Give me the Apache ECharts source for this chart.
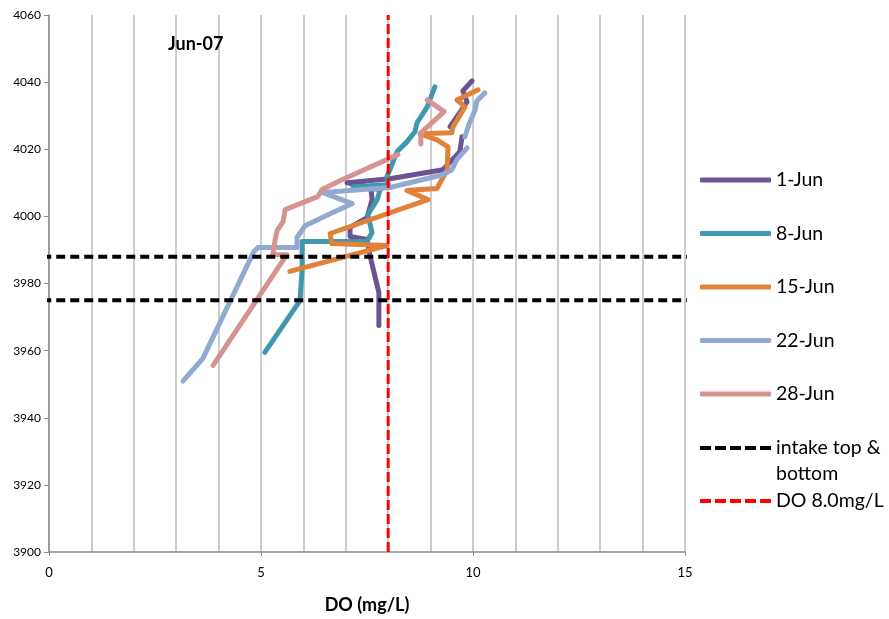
<!DOCTYPE html>
<html>
<head>
<meta charset="utf-8">
<script src="https://cdn.jsdelivr.net/npm/echarts@6/dist/echarts.min.js"></script>
<style>
html,body{margin:0;padding:0;background:#fff;}
#chart{width:889px;height:619px;}
</style>
</head>
<body>
<div id="chart"></div>
<script>
// ---- data (DO in mg/L, elevation) ----
const names = ['1-Jun', '8-Jun', '15-Jun', '22-Jun', '28-Jun'];
const do_1Jun = [7.78,7.78,7.57,7.50,7.10,7.10,7.50,7.62,7.59,7.03,8.04,9.29,9.69,9.74,null,9.46,9.86,9.76,9.98];
const el_1Jun = [3967.5,3977.3,3988.3,3993.1,3994.0,3996.7,3999.6,4005.0,4008.6,4010.0,4011.2,4013.9,4019.3,4023.7,null,4026.7,4034.1,4037.4,4040.4];
const do_8Jun = [5.09,5.92,5.97,5.97,7.50,7.62,7.52,7.74,7.81,7.17,8.00,7.97,8.04,8.21,8.44,8.63,8.68,8.92,9.10];
const el_8Jun = [3959.5,3974.9,3984.2,3992.5,3992.5,3995.2,4000.5,4005.0,4008.0,4008.8,4009.4,4011.8,4013.9,4019.3,4022.2,4025.2,4027.9,4032.6,4038.6];
const do_15Jun = [5.68,7.97,6.67,6.63,8.94,8.44,9.15,9.39,9.41,9.15,8.75,9.50,9.53,9.81,9.62,10.12];
const el_15Jun = [3983.6,3991.3,3991.9,3994.9,4005.0,4007.7,4008.3,4013.9,4020.7,4022.8,4024.6,4024.9,4026.7,4032.6,4034.7,4037.7];
const do_22Jun = [3.16,3.63,4.83,4.93,5.85,5.85,6.04,6.63,7.15,6.46,8.04,9.29,9.50,9.62,9.86,null,9.81,9.91,10.05,10.09,10.28];
const el_22Jun = [3950.9,3957.7,3989.5,3990.7,3990.7,3993.7,3997.2,4000.8,4003.8,4007.1,4008.6,4012.4,4013.9,4016.9,4020.4,null,4023.7,4027.6,4031.7,4034.4,4036.8];
const do_28Jun = [3.87,5.61,5.28,5.33,5.38,5.52,5.57,6.04,6.34,6.44,6.86,7.33,8.23,null,8.77,8.77,9.32,8.92];
const el_28Jun = [3955.6,3988.6,3988.6,3992.8,3995.8,3998.4,4002.0,4004.4,4005.9,4008.0,4010.6,4013.3,4018.4,null,4021.6,4024.9,4031.2,4034.7];
const intakeName = 'intake top &\nbottom';
const intakeElev = [3988, 3975];
const intakeX = [-1.15, 19.7];
const doLimitName = 'DO 8.0mg/L';
const doLimit = 8.0;
const doLimitElev = [3900, 4060];
const xTicks = [0, 5, 10, 15];
const yTicks = [3900, 3920, 3940, 3960, 3980, 4000, 4020, 4040, 4060];

const colors = ['#6B5494', '#3F98AE', '#E0823A', '#92AAD2', '#D59391'];
const FONT = 'Lato, "Open Sans", sans-serif';
const dashIcon = 'path://M0,0h11v4h-11z M15,0h11v4h-11z M30,0h11v4h-11z M45,0h11v4h-11z M60,0h11v4h-11z';

function pairs(xs, ys) {
  return xs.map((x, i) => (x === null || ys[i] === null) ? ['-', '-'] : [x, ys[i]]);
}
const doArr = [do_1Jun, do_8Jun, do_15Jun, do_22Jun, do_28Jun];
const elArr = [el_1Jun, el_8Jun, el_15Jun, el_22Jun, el_28Jun];

const series = names.map((n, i) => ({
  name: n,
  type: 'line',
  data: pairs(doArr[i], elArr[i]),
  showSymbol: false,
  symbol: 'none',
  color: colors[i],
  itemStyle: { color: colors[i] },
  lineStyle: { width: 5, color: colors[i], cap: 'round', join: 'round' },
  connectNulls: false,
  z: 2
}));

intakeElev.forEach(e => {
  series.push({
    name: intakeName,
    type: 'line',
    data: intakeX.map(x => [x, e]),
    symbol: 'none',
    clip: false,
    color: '#000',
    itemStyle: { color: '#000' },
    lineStyle: { width: 4, color: '#000', type: [9, 5] },
    z: 3
  });
});
series.push({
  name: doLimitName,
  type: 'line',
  data: doLimitElev.map(e => [doLimit, e]),
  symbol: 'none',
  color: '#FF0000',
  itemStyle: { color: '#FF0000' },
  lineStyle: { width: 3, color: '#FF0000', type: [10, 4] },
  z: 4
});

const legendText = { fontSize: 19.5, color: '#000', lineHeight: 20, fontFamily: FONT };

const chart = echarts.init(document.getElementById('chart'), null, { renderer: 'canvas' });
chart.setOption({
  animation: false,
  backgroundColor: '#fff',
  textStyle: { fontFamily: FONT },
  title: {
    text: 'Jun-07', left: 163, top: 30,
    textStyle: { fontSize: 18, fontWeight: 'bold', color: '#000', fontFamily: FONT }
  },
  grid: { left: 49, right: 204, top: 15, bottom: 66, containLabel: false },
  xAxis: {
    type: 'value', min: xTicks[0], max: xTicks[xTicks.length - 1], interval: 5,
    name: 'DO (mg/L)', nameLocation: 'middle', nameGap: 44,
    nameTextStyle: { fontSize: 18, fontWeight: 'bold', color: '#000', fontFamily: FONT },
    axisLine: { show: true, lineStyle: { color: '#8C8C8C', width: 1.5 } },
    axisTick: { show: true, length: 4, lineStyle: { color: '#8C8C8C' } },
    axisLabel: { fontSize: 13, color: '#000', margin: 14, fontFamily: FONT },
    splitLine: { show: true, lineStyle: { color: '#BDBDBD', width: 1.5 } },
    minorTick: { show: false, splitNumber: 5 },
    minorSplitLine: { show: true, lineStyle: { color: '#BDBDBD', width: 1.5 } }
  },
  yAxis: {
    type: 'value', min: yTicks[0], max: yTicks[yTicks.length - 1], interval: 20,
    axisLine: { show: true, lineStyle: { color: '#8C8C8C', width: 1.5 } },
    axisTick: { show: true, length: 5, lineStyle: { color: '#8C8C8C' } },
    axisLabel: { fontSize: 12, color: '#000', margin: 8, fontFamily: FONT, formatter: v => String(v) },
    splitLine: { show: false }
  },
  legend: [
    {
      data: names, orient: 'vertical', left: 700, top: 170, padding: 0,
      itemWidth: 71, itemHeight: 5, itemGap: 33.5, icon: 'roundRect',
      textStyle: legendText, selectedMode: false
    },
    {
      data: [intakeName], orient: 'vertical', left: 700, top: 409, padding: 0,
      itemWidth: 71, itemHeight: 4, icon: dashIcon,
      formatter: n => ' \n' + n,
      textStyle: { fontSize: 19.5, color: '#000', lineHeight: 26, fontFamily: FONT },
      selectedMode: false
    },
    {
      data: [doLimitName], orient: 'vertical', left: 700, top: 491, padding: 0,
      itemWidth: 71, itemHeight: 4, icon: dashIcon,
      textStyle: legendText, selectedMode: false
    }
  ],
  series: series
});
</script>
</body>
</html>
